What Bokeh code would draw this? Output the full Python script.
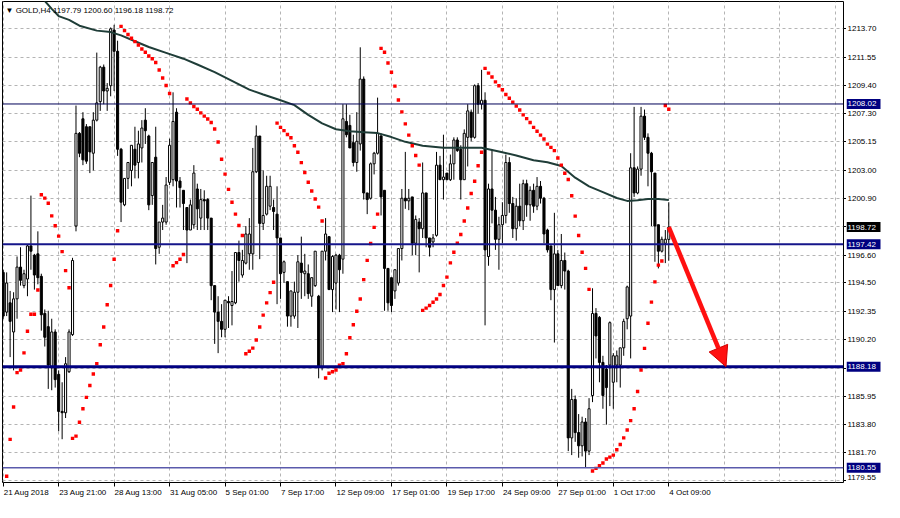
from bokeh.plotting import figure
from bokeh.layouts import row
from bokeh.models import (Range1d, FixedTicker, Span, Label, Arrow, NormalHead, LinearAxis,
                          ColumnDataSource, CustomJSTickFormatter)
from bokeh.core.properties import value
from bokeh.embed import file_html
from bokeh.resources import INLINE

# ---------------- data (GOLD, H4 candles) ----------------
opens = [1195.3,1192.3,1193.0,1190.8,1193.3,1195.7,1194.3,1194.8,1197.3,1196.6,
         1196.7,1195.0,1192.2,1191.2,1188.2,1190.8,1187.6,1184.8,1184.7,1187.8,
         1190.6,1198.8,1205.8,1206.9,1206.3,1206.3,1204.3,1206.8,1208.2,1210.8,
         1209.0,1209.4,1213.6,1212.0,1204.6,1200.4,1202.4,1203.0,1204.6,1203.6,
         1204.7,1206.8,1205.6,1201.1,1204.0,1197.2,1199.1,1199.1,1202.1,1202.3,
         1207.4,1202.2,1201.5,1200.2,1198.5,1198.9,1201.6,1199.4,1200.8,1200.8,
         1199.4,1194.3,1192.3,1191.6,1191.0,1193.1,1192.8,1193.0,1196.8,1195.1,
         1196.0,1196.7,1196.7,1202.9,1205.6,1199.0,1199.7,1200.3,1200.2,1199.7,
         1197.9,1195.3,1194.6,1192.0,1192.0,1193.8,1196.0,1195.2,1195.2,1193.5,
         1194.3,1193.5,1188.2,1196.9,1198.0,1194.0,1194.5,1196.6,1196.3,1206.7,
         1206.4,1205.1,1203.6,1205.0,1209.9,1201.3,1200.9,1203.5,1204.3,1205.6,
         1201.5,1195.6,1194.9,1193.9,1194.5,1197.1,1200.9,1200.7,1201.0,1197.5,
         1199.1,1198.6,1201.3,1197.9,1197.6,1198.1,1203.4,1202.3,1202.8,1202.3,
         1203.5,1205.3,1204.6,1202.3,1205.5,1207.4,1205.5,1209.4,1208.0,1208.3,
         1196.5,1201.6,1200.0,1197.8,1198.9,1199.6,1203.6,1200.5,1198.6,1200.3,
         1199.2,1202.0,1200.4,1201.5,1200.3,1201.8,1200.9,1198.5,1197.3,1194.0,
         1196.7,1194.3,1196.2,1195.4,1182.8,1185.7,1183.2,1182.2,1184.0,1181.8,
         1186.0,1192.2,1191.9,1188.5,1188.0,1188.3,1187.0,1188.3,1188.3,1189.6,
         1191.8,1192.0,1203.2,1201.3,1203.1,1207.1,1205.5,1204.3,1202.8,1198.9,
         1196.9,1197.5,1197.79]
highs = [1195.5,1195.3,1193.9,1193.8,1196.5,1197.2,1195.5,1197.4,1201.1,1196.7,
         1198.4,1195.2,1192.5,1192.4,1191.8,1191.0,1187.9,1187.0,1188.9,1191.0,
         1196.4,1207.9,1205.9,1207.4,1206.5,1206.3,1207.4,1211.9,1210.9,1211.0,
         1209.6,1213.8,1214.0,1212.8,1204.7,1202.4,1203.6,1204.9,1206.3,1206.0,
         1206.8,1207.7,1205.7,1203.6,1206.3,1199.1,1200.4,1202.5,1205.4,1208.9,
         1207.7,1202.5,1201.5,1200.2,1200.8,1203.4,1202.0,1201.6,1201.5,1200.9,
         1199.4,1194.3,1193.5,1192.9,1193.2,1193.5,1195.4,1196.8,1197.7,1197.0,
         1198.8,1199.4,1204.7,1206.4,1205.6,1203.0,1202.6,1202.6,1200.8,1201.8,
         1197.9,1196.2,1194.6,1193.9,1194.6,1196.6,1198.0,1196.7,1195.9,1194.9,
         1196.9,1193.6,1196.9,1199.4,1198.0,1196.6,1196.7,1196.7,1208.0,1208.0,
         1207.2,1205.7,1207.4,1212.3,1210.1,1201.3,1203.6,1204.4,1208.5,1205.8,
         1201.5,1195.6,1194.9,1195.5,1197.1,1201.6,1204.4,1201.6,1201.0,1199.6,
         1199.4,1203.6,1201.3,1197.9,1198.2,1204.4,1204.1,1205.7,1202.8,1204.2,
         1205.5,1205.5,1204.9,1206.1,1208.0,1207.6,1209.5,1209.6,1210.6,1208.9,
         1202.0,1204.6,1201.0,1199.5,1200.6,1204.2,1204.0,1201.0,1200.9,1202.0,
         1202.3,1202.3,1201.8,1202.0,1202.5,1202.2,1201.0,1198.6,1197.3,1199.8,
         1197.0,1198.2,1196.8,1195.5,1186.5,1186.0,1184.6,1184.4,1184.3,1185.8,
         1194.1,1192.6,1192.0,1189.0,1188.3,1191.6,1189.2,1189.4,1189.6,1191.8,
         1194.3,1204.3,1207.8,1203.3,1207.8,1207.6,1205.8,1204.4,1202.8,1198.9,
         1198.0,1198.5,1200.60]
lows = [1191.8,1192.0,1188.9,1187.9,1191.8,1194.3,1194.1,1193.5,1195.5,1194.0,
        1194.4,1190.9,1189.7,1186.5,1186.4,1186.6,1183.3,1182.7,1184.3,1187.7,
        1190.5,1198.4,1204.0,1203.4,1203.5,1202.8,1203.0,1206.7,1207.5,1208.0,
        1207.5,1208.6,1209.0,1204.1,1199.1,1200.3,1201.6,1201.8,1202.4,1202.4,
        1203.6,1205.0,1200.0,1200.4,1195.9,1196.7,1198.5,1198.9,1201.9,1201.8,
        1200.2,1200.2,1198.5,1196.0,1198.5,1198.6,1198.5,1198.5,1198.5,1198.5,
        1193.2,1189.9,1189.2,1190.4,1190.4,1191.1,1191.3,1192.9,1194.6,1194.9,
        1195.9,1195.5,1195.5,1202.8,1196.3,1198.5,1199.6,1200.0,1198.5,1192.9,
        1193.3,1194.5,1191.2,1191.2,1191.8,1191.1,1193.3,1193.5,1193.3,1192.7,
        1194.2,1187.3,1187.9,1196.2,1194.0,1192.3,1192.5,1192.3,1195.2,1205.5,
        1204.7,1203.3,1202.9,1204.5,1200.8,1199.7,1200.8,1202.7,1204.2,1199.6,
        1192.4,1192.4,1192.3,1193.3,1194.3,1196.2,1200.1,1200.0,1196.6,1196.6,
        1195.3,1197.9,1197.2,1196.5,1197.2,1198.0,1202.3,1200.8,1202.3,1202.2,
        1202.3,1204.4,1200.8,1202.3,1203.3,1205.2,1205.4,1207.3,1207.6,1191.3,
        1195.8,1199.0,1197.0,1195.5,1197.5,1199.0,1199.8,1197.9,1197.7,1198.8,
        1198.5,1199.5,1199.2,1199.8,1200.0,1200.5,1197.5,1196.8,1193.2,1190.0,
        1194.3,1194.1,1194.0,1181.8,1181.5,1182.5,1181.3,1181.4,1180.55,1181.5,
        1185.5,1188.8,1187.0,1185.0,1183.8,1185.2,1185.0,1187.0,1186.6,1189.0,
        1191.0,1188.8,1201.0,1201.2,1202.6,1205.3,1201.8,1198.8,1196.1,1195.6,
        1196.8,1196.0,1196.18]
closes = [1192.0,1194.5,1191.6,1193.3,1195.7,1194.7,1195.2,1197.3,1196.9,1195.1,
          1194.9,1192.1,1190.4,1188.3,1190.8,1187.2,1184.8,1184.7,1188.4,1190.8,
          1196.2,1205.8,1204.3,1203.8,1203.7,1204.4,1206.8,1208.1,1210.8,1209.0,
          1209.2,1213.7,1212.0,1204.6,1200.6,1202.4,1203.6,1204.9,1203.4,1205.0,
          1206.2,1206.0,1200.4,1203.6,1197.1,1199.1,1199.4,1201.9,1204.9,1206.7,
          1202.2,1201.7,1200.5,1198.5,1200.4,1202.8,1200.1,1200.8,1200.7,1199.4,
          1194.3,1192.3,1191.6,1191.0,1193.2,1193.0,1193.1,1196.8,1196.2,1196.2,
          1198.2,1198.2,1202.9,1205.6,1199.0,1199.6,1201.8,1201.8,1199.9,1197.9,
          1195.2,1196.1,1192.0,1193.9,1193.8,1196.1,1195.3,1195.4,1193.7,1194.9,
          1196.9,1188.2,1196.9,1198.2,1194.0,1196.5,1196.6,1195.5,1206.9,1205.7,
          1204.7,1203.6,1205.2,1209.9,1201.3,1200.8,1203.5,1204.3,1205.8,1201.0,
          1195.6,1193.0,1192.8,1195.5,1197.1,1200.9,1200.7,1200.9,1197.5,1199.3,
          1198.6,1201.3,1197.9,1197.2,1197.9,1203.4,1202.3,1202.5,1202.3,1203.5,
          1205.3,1204.5,1202.3,1205.8,1207.5,1205.5,1209.4,1208.0,1208.3,1197.0,
          1201.6,1200.0,1197.8,1198.9,1199.6,1203.6,1200.5,1198.6,1200.3,1199.2,
          1202.0,1200.4,1201.5,1200.3,1201.8,1200.9,1198.2,1197.0,1194.0,1196.7,
          1194.3,1196.2,1195.4,1182.8,1185.7,1183.2,1182.2,1184.0,1181.8,1185.0,
          1192.2,1190.5,1188.5,1186.0,1186.6,1191.5,1189.0,1189.0,1189.6,1191.6,
          1194.2,1203.2,1201.3,1203.1,1207.1,1205.5,1204.3,1202.9,1198.8,1196.9,
          1197.8,1197.8,1198.72]

# Parabolic SAR dots (one per bar, NaN where not visible)
nan = float("nan")
sar = [nan,1179.9,1182.69,1185.13,1187.73,1187.93,1189.22,1190.85,1192.14,1192.14,
       1193.97,1201.16,1200.91,1200.52,1199.57,1198.82,1198.04,1196.87,1195.43,1194.14,
       1182.76,1182.93,1183.98,1185.00,1185.86,1186.76,1187.63,1188.41,1189.83,1191.17,
       1192.85,1194.31,1196.29,1198.45,1213.88,1213.56,1213.27,1212.98,1212.73,1212.47,
       1212.17,1211.93,1211.64,1211.44,1211.15,1210.59,1209.98,1209.42,1208.81,1195.80,
       1196.04,1196.29,1196.65,1208.40,1208.10,1207.83,1207.62,1207.35,1207.10,1206.88,
       1206.62,1206.13,1205.15,1203.84,1202.72,1201.57,1200.60,1199.70,1198.84,1198.09,
       1189.15,1189.34,1189.58,1190.19,1191.17,1192.07,1193.00,1193.77,1194.56,1206.57,
       1206.25,1206.01,1205.71,1205.47,1204.86,1204.37,1203.59,1202.84,1202.11,1201.45,
       1200.84,1200.23,1199.18,1187.32,1187.68,1187.80,1187.93,1188.29,1188.41,1189.15,
       1190.36,1191.34,1192.36,1193.29,1194.75,1196.21,1197.48,1198.70,1199.70,1212.22,
       1211.93,1211.12,1210.42,1209.37,1208.32,1207.42,1206.52,1205.67,1204.86,1204.13,
       1203.40,1192.43,1192.60,1192.80,1193.04,1193.29,1193.63,1194.31,1194.94,1196.02,
       1196.82,1197.50,1198.16,1199.18,1200.16,1201.26,1202.18,1203.35,1204.37,1210.71,
       1210.35,1210.06,1209.69,1209.40,1209.10,1208.74,1208.45,1208.16,1207.86,1207.57,
       1207.20,1206.91,1206.62,1206.25,1205.96,1205.67,1205.38,1204.99,1204.74,1204.50,
       1203.94,1203.40,1202.79,1202.31,1201.09,1199.55,1198.09,1196.82,1195.60,1194.02,
       1180.30,1180.50,1180.70,1180.90,1181.20,1181.35,1181.50,1181.90,1182.30,1182.80,
       1183.40,1184.10,1185.00,1186.30,1187.93,1189.56,1191.46,1193.05,1194.58,1195.85,
       1196.16,1207.91,1207.62]

# Moving average, sampled along the line
ma_bars = [10,14,16,19,22,27,31,34,38,42,47,52,56,61,66,71,75,80,84,88,92,96,100,104,
           108,112,116,121,127,133,138,143,148,153,157,161,165,169,173,177,180,183,186,189,192]
ma_vals = [1216.4,1215.2,1214.66,1214.37,1213.93,1213.56,1213.45,1213.2,1212.76,1212.32,
           1211.88,1211.44,1211.0,1210.42,1209.76,1209.10,1208.74,1208.30,1207.93,1207.20,
           1206.55,1206.11,1205.96,1205.89,1205.82,1205.52,1205.16,1204.87,1204.72,1204.72,
           1204.72,1204.43,1204.13,1203.77,1203.62,1203.33,1202.45,1201.80,1201.36,1200.92,
           1200.70,1200.74,1200.84,1200.84,1200.77]

date_ticks = [0,16,32,48,64,80,96,112,128,144,160,176,192]
date_labels = ["21 Aug 2018","23 Aug 21:00","28 Aug 13:00","31 Aug 05:00","5 Sep 01:00",
               "7 Sep 17:00","12 Sep 09:00","17 Sep 01:00","19 Sep 17:00","24 Sep 09:00",
               "27 Sep 01:00","1 Oct 17:00","4 Oct 09:00"]
grid_x_ticks = [0,16,32,48,64,80,96,112,128,144,160,176,192,208,224,240]
price_grid = [1213.70,1211.55,1209.40,1207.30,1205.15,1203.00,1200.90,1198.75,1196.60,
              1194.50,1192.35,1190.20,1188.05,1185.95,1183.80,1181.70,1179.55]
price_labels = [1213.70,1211.55,1209.40,1207.30,1205.15,1203.00,1200.90,1196.60,
                1194.50,1192.35,1190.20,1185.95,1183.80,1181.70,1179.55]

levels = [1208.02, 1197.42, 1188.18, 1180.55]
level_widths = [1, 2, 3, 1.5]
level_colors = ["#000058", "#15158a", "#000080", "#5a5aac"]
last_price = 1198.72
title_text = "\u25BC GOLD,H4 1197.79 1200.60 1196.18 1198.72"
arrow_from = (192, 1198.72)
arrow_to = (208.5, 1188.18)

# ---------------- layout constants ----------------
TOTAL_W, H = 884, 502
SCALE_W = 38                      # price-scale column
W = TOTAL_W - SCALE_W             # main chart figure
TOP, BOTTOM, LEFT = 1, 20, 2
XMIN, XMAX = -0.2, 242.4
YMIN, YMAX = 1179.43, 1215.76
frame_w = W - LEFT - 3
frame_h = H - TOP - BOTTOM
upx = (XMAX - XMIN) / frame_w
upy = (YMAX - YMIN) / frame_h
FONT = "Liberation Sans"
FS = "8px"

# Arial-metric character widths (per 1000 em) to left-align the date labels at their ticks
CW = {d: 556 for d in "0123456789"}
CW.update({" ": 278, ":": 278, "A": 667, "u": 556, "g": 556, "S": 667, "e": 556,
           "p": 556, "O": 778, "c": 500, "t": 278})
def text_px(s):
    return sum(CW.get(ch, 556) for ch in s) * 8 / 1000.0

yr = Range1d(YMIN, YMAX)
p = figure(width=W, height=H, x_range=Range1d(XMIN, XMAX), y_range=yr,
           output_backend="svg", toolbar_location=None, y_axis_location="right",
           min_border_left=LEFT, min_border_right=0, min_border_top=TOP,
           min_border_bottom=BOTTOM, outline_line_color="black", outline_line_width=1,
           background_fill_color="white", border_fill_color="white")

blank = CustomJSTickFormatter(code="return ''")
# price axis: tick marks (labels are drawn in the scale column)
p.yaxis.ticker = FixedTicker(ticks=price_grid)
p.yaxis.formatter = blank
p.yaxis.major_tick_out = 3
p.yaxis.major_tick_in = 0
p.yaxis.minor_tick_line_color = None
p.yaxis.major_label_standoff = 0
p.yaxis.axis_line_color = None
p.yaxis.major_label_text_font_size = "1px"

# time axis: tick marks
p.xaxis.ticker = FixedTicker(ticks=date_ticks)
p.xaxis.formatter = blank
p.xaxis.major_tick_out = 4
p.xaxis.major_tick_in = 0
p.xaxis.minor_tick_line_color = None
p.xaxis.axis_line_color = None
p.xaxis.major_label_text_font_size = "1px"
p.xaxis.major_label_standoff = 0

# time axis labels: second axis whose label centres sit half a label right of each tick
centres = [t + (text_px(s) / 2 + 0.5) * upx for t, s in zip(date_ticks, date_labels)]
lab_axis = LinearAxis(ticker=FixedTicker(ticks=centres),
                      formatter=CustomJSTickFormatter(args=dict(labels=date_labels),
                                                      code="return labels[index]"),
                      major_tick_out=0, major_tick_in=0, minor_tick_line_color=None,
                      axis_line_color=None, major_label_standoff=1,
                      major_label_text_font=FONT, major_label_text_font_size=FS,
                      major_label_text_color="black")
p.add_layout(lab_axis, "below")

# grid
p.xgrid.ticker = FixedTicker(ticks=grid_x_ticks)
p.ygrid.ticker = FixedTicker(ticks=price_grid)
for g in (p.xgrid, p.ygrid):
    g.grid_line_color = "#b4b4b4"
    g.grid_line_dash = "3 3"
    g.grid_line_width = 1

# candles
bars = list(range(len(opens)))
src = ColumnDataSource(dict(
    x=bars, o=opens, h=highs, l=lows, c=closes,
    top=[max(a, b) for a, b in zip(opens, closes)],
    bot=[min(a, b) for a, b in zip(opens, closes)],
    fill=["white" if c >= o else "black" for o, c in zip(opens, closes)],
))
p.segment(x0="x", y0="l", x1="x", y1="h", source=src, line_color="black", line_width=1)
p.vbar(x="x", width=0.6, top="top", bottom="bot", source=src,
       fill_color="fill", line_color="black", line_width=1)

# moving average
p.line(ma_bars, ma_vals, line_color="#1f3d38", line_width=2)

# parabolic SAR
p.scatter(bars, sar, marker="square", size=3.4, fill_color="#ff0000", line_color=None)

# horizontal levels
for lv, lw, lc in zip(levels, level_widths, level_colors):
    p.add_layout(Span(location=lv, dimension="width", line_color=lc, line_width=lw))

# arrow
p.add_layout(Arrow(end=NormalHead(size=20, fill_color="#ff1010", line_color="#d00000", line_width=1),
                   x_start=arrow_from[0], y_start=arrow_from[1],
                   x_end=arrow_to[0], y_end=arrow_to[1],
                   line_color="#ff1010", line_width=4.5))

# chart title
p.add_layout(Label(x=XMIN + 3 * upx, y=YMAX - 9 * upy, text=title_text, text_font=FONT,
                   text_font_size=FS, text_color="black", text_align="left",
                   text_baseline="middle"))

# ---------------- price scale column ----------------
q = figure(width=SCALE_W, height=H, x_range=Range1d(0, SCALE_W), y_range=yr,
           output_backend="svg", toolbar_location=None,
           x_axis_location=None, y_axis_location=None,
           min_border_left=0, min_border_right=0, min_border_top=TOP,
           min_border_bottom=BOTTOM, outline_line_color=None,
           background_fill_color="white", border_fill_color="white")
q.xgrid.visible = False
q.ygrid.visible = False

label_y = [max(v, YMIN + 5 * upy) for v in price_labels]
q.text(x=[1] * len(price_labels), y=label_y, text=[f"{v:.2f}" for v in price_labels],
       text_font=value(FONT), text_font_size=value(FS), text_color="black",
       text_align="left", text_baseline="middle")

q.rect(x=[17] * len(levels), y=levels, width=34, height=10, height_units="screen",
       fill_color="#000080", line_color=None)
q.rect(x=[17], y=[last_price], width=34, height=10, height_units="screen",
       fill_color="black", line_color=None)
q.text(x=[1] * (len(levels) + 1), y=levels + [last_price],
       text=[f"{v:.2f}" for v in levels + [last_price]],
       text_font=value(FONT), text_font_size=value(FS), text_color="white",
       text_align="left", text_baseline="middle")

layout = row(p, q)
open("out.html", "w").write(file_html(layout, INLINE))
